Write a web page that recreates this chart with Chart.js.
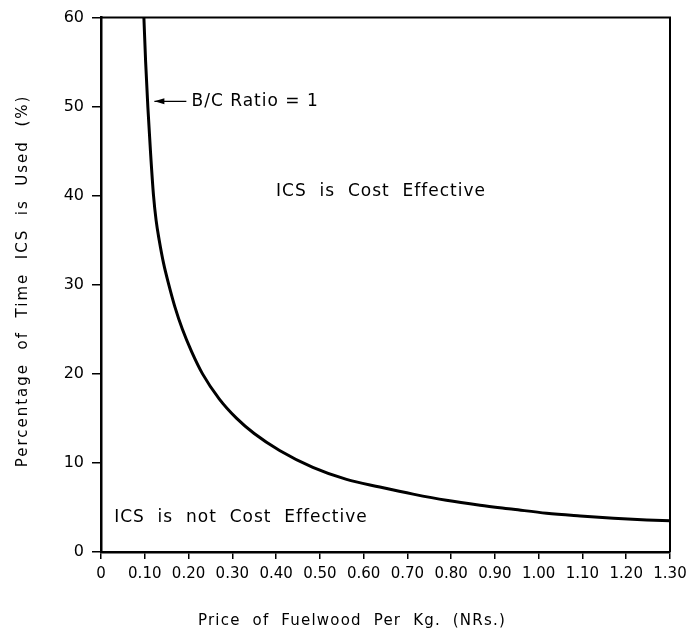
<!DOCTYPE html>
<html>
<head>
<meta charset="utf-8">
<script src="https://cdn.jsdelivr.net/npm/chart.js@4.4.0/dist/chart.umd.min.js"></script>
<style>
  body { margin: 0; background: #fff; }
  #wrap { width: 686px; height: 633px; }
</style>
</head>
<body>
<div id="wrap"><canvas id="fuelCanvas" width="686" height="633"></canvas></div>
<script>
const price = [0.098, 0.102, 0.107, 0.113, 0.120, 0.126, 0.133, 0.143, 0.155, 0.169, 0.186, 0.207, 0.232, 0.27, 0.31, 0.35, 0.408, 0.484, 0.561, 0.637, 0.713, 0.789, 0.866, 0.942, 1.018, 1.095, 1.171, 1.247, 1.30];
const usedPct = [60, 55, 50, 45, 40, 37.2, 35, 32.4, 30, 27.5, 25, 22.5, 20, 17.2, 15.0, 13.3, 11.4, 9.5, 8.15, 7.3, 6.5, 5.8, 5.25, 4.8, 4.35, 4.05, 3.8, 3.6, 3.5];

const xTicks = [0, 0.1, 0.2, 0.3, 0.4, 0.5, 0.6, 0.7, 0.8, 0.9, 1.0, 1.1, 1.2, 1.3];
const yTicks = [0, 10, 20, 30, 40, 50, 60];

const xTitle = "Price  of  Fuelwood  Per  Kg.  (NRs.)";
const yTitle = "Percentage  of  Time  ICS  is  Used  (%)";

const points = price.map((p, i) => ({ x: p, y: usedPct[i] }));
const FONT = "'DejaVu Sans', sans-serif";

// box, axis titles and text labels inside the plot
const notes = {
    id: "notes",
    afterDatasetsDraw(chart) {
        const { ctx, chartArea: a, scales: { x, y } } = chart;
        ctx.save();
        ctx.strokeStyle = "#000";
        ctx.lineWidth = 2;
        ctx.beginPath();
        ctx.moveTo(a.left, a.top);
        ctx.lineTo(a.right, a.top);
        ctx.lineTo(a.right, a.bottom);
        ctx.stroke();

        ctx.fillStyle = "#000";
        ctx.textBaseline = "middle";

        // axis titles
        ctx.textAlign = "left";
        ctx.font = "15px " + FONT;
        ctx.letterSpacing = "1.2px";
        ctx.fillText(xTitle, 198, 621);
        ctx.save();
        ctx.translate(23, 281);
        ctx.rotate(-Math.PI / 2);
        ctx.textAlign = "center";
        ctx.letterSpacing = "2px";
        ctx.fillText(yTitle, 0, 0);
        ctx.restore();

        ctx.textAlign = "left";
        ctx.font = "17px " + FONT;
        ctx.letterSpacing = "1px";
        ctx.fillText("ICS  is  Cost  Effective", x.getPixelForValue(0.40), y.getPixelForValue(40.5));
        ctx.fillText("ICS  is  not  Cost  Effective", x.getPixelForValue(0.03), y.getPixelForValue(3.9));
        ctx.fillText("B/C Ratio = 1", x.getPixelForValue(0.207), y.getPixelForValue(50.6));
        ctx.letterSpacing = "0px";

        // arrow to the curve
        const ay = y.getPixelForValue(50.6);
        const x0 = x.getPixelForValue(0.195), x1 = x.getPixelForValue(0.122);
        ctx.lineWidth = 1.2;
        ctx.beginPath();
        ctx.moveTo(x0, ay);
        ctx.lineTo(x1, ay);
        ctx.stroke();
        ctx.beginPath();
        ctx.moveTo(x1, ay);
        ctx.lineTo(x1 + 10, ay - 3);
        ctx.lineTo(x1 + 10, ay + 3);
        ctx.closePath();
        ctx.fill();
        ctx.restore();
    }
};

new Chart(document.getElementById("fuelCanvas"), {
    type: "line",
    data: {
        datasets: [{
            data: points,
            borderColor: "#000",
            borderWidth: 3,
            pointRadius: 0,
            fill: false,
            cubicInterpolationMode: "monotone"
        }]
    },
    options: {
        responsive: false,
        animation: false,
        devicePixelRatio: 1,
        layout: { padding: { top: 16, right: 16, bottom: 0, left: 0 } },
        plugins: { legend: { display: false }, tooltip: { enabled: false } },
        scales: {
            x: {
                type: "linear",
                min: 0,
                max: 1.3,
                afterFit: s => { s.height = 81; s.paddingRight = 0; s.paddingLeft = 0; },
                afterBuildTicks: s => { s.ticks = xTicks.map(v => ({ value: v })); },
                ticks: {
                    color: "#000",
                    padding: 6,
                    maxRotation: 0,
                    autoSkip: false,
                    font: { family: FONT, size: 15 },
                    callback: v => v === 0 ? "0" : v.toFixed(2)
                },
                grid: { drawOnChartArea: false, color: "#000", tickLength: 7, lineWidth: 1.5 },
                border: { color: "#000", width: 2.5 }
            },
            y: {
                min: 0,
                max: 60,
                afterFit: s => { s.width = 101; },
                afterBuildTicks: s => { s.ticks = yTicks.map(v => ({ value: v })); },
                ticks: {
                    color: "#000",
                    padding: 8,
                    font: { family: FONT, size: 16 }
                },
                grid: { drawOnChartArea: false, color: "#000", tickLength: 9, lineWidth: 1.5 },
                border: { color: "#000", width: 2.5 }
            }
        }
    },
    plugins: [notes]
});
</script>
</body>
</html>
